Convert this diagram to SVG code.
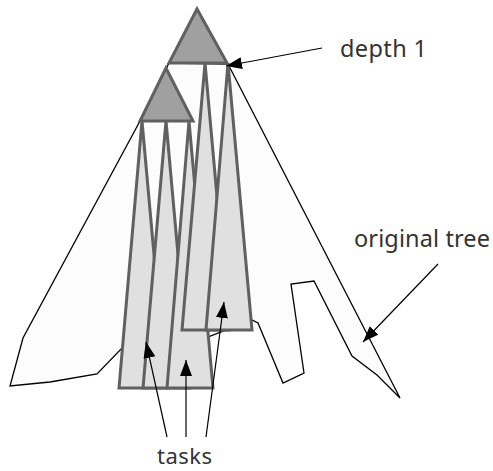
<svg xmlns="http://www.w3.org/2000/svg" width="493" height="471" viewBox="0 0 493 471">
<style>
.tree{fill:#fcfcfc;stroke:#000;stroke-width:1.3;stroke-linejoin:miter}
.task{fill:#e0e0e0;stroke:#606060;stroke-width:3;stroke-linejoin:miter}
.top{fill:#a0a0a0;stroke:#606060;stroke-width:3;stroke-linejoin:miter}
.arr{fill:none;stroke:#000;stroke-width:1.2;marker-end:url(#ah)}
.lbl{font-family:"Noto Sans","DejaVu Sans",sans-serif;font-size:23.5px;fill:#333}
.sm{font-size:22px}
</style>
<defs>
<marker id="ah" markerUnits="userSpaceOnUse" markerWidth="17" markerHeight="13" refX="16" refY="6" orient="auto">
<path d="M0,0 L16,6 L0,12 z" fill="#000"/>
</marker>
</defs>
<rect width="493" height="471" fill="#fff"/>
<g id="original-tree">
<polygon class="tree" points="228,64 400,398 377,375 352,356 314,281 291,284 304,373 283,383 258,323 252,320 200,340 122,348 97,374 50,382 10,386 23,338 140,121 169,63"/>
</g>
<g id="task-a"><polygon class="task" points="142,121 119,388 166,388"/></g>
<g id="task-b"><polygon class="task" points="166,121 143,388 190,388"/></g>
<g id="task-c"><polygon class="task" points="189,121 167,388 213,388"/></g>
<g id="depth2-tri"><polygon class="top" points="166,68 140,121 193,121"/></g>
<g id="depth1-tri"><polygon class="top" points="197,9 169,63 227,63"/></g>
<g id="task-d"><polygon class="task" points="205,63 182,330 229,330"/></g>
<g id="task-e"><polygon class="task" points="228,63 206,330 252,330"/></g>
<g id="connectors">
<line class="arr" x1="322" y1="48" x2="226" y2="66"/>
<line class="arr" x1="438" y1="264" x2="363" y2="342"/>
<line class="arr" x1="167" y1="437" x2="146" y2="342"/>
<line class="arr" x1="186" y1="437" x2="186" y2="360"/>
<line class="arr" x1="206" y1="437" x2="224" y2="302"/>
</g>
<g id="labels">
<text class="lbl" x="340" y="57" textLength="87" lengthAdjust="spacing">depth 1</text>
<text class="lbl" x="354" y="247" textLength="136" lengthAdjust="spacing">original tree</text>
<text class="lbl sm" x="157" y="464" textLength="55" lengthAdjust="spacing">tasks</text>
</g>
</svg>
